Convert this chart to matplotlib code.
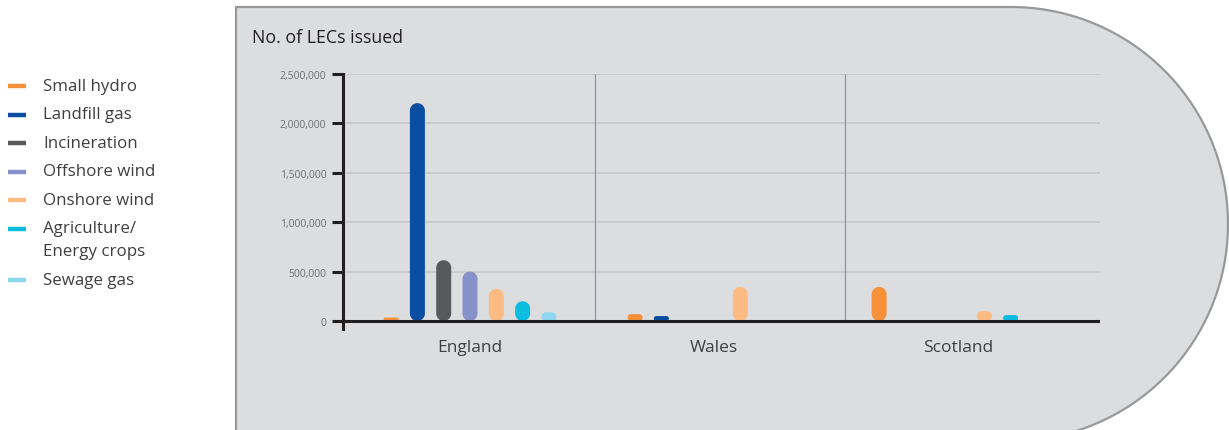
import numpy as np
import matplotlib
matplotlib.use("Agg")
import matplotlib.pyplot as plt
from matplotlib.patches import Polygon

plt.rcParams['font.family'] = ['Open Sans', 'DejaVu Sans']

# LECs issued per region and source
regions = ["England", "Wales", "Scotland"]
sources = ["Small hydro", "Landfill gas", "Incineration", "Offshore wind",
           "Onshore wind", "Agriculture/\nEnergy crops", "Sewage gas"]
colors = ["#f7923a", "#0a4ea2", "#58595b", "#8591c8",
          "#fdbb84", "#0cbde0", "#8dd8ef"]
small_hydro = [35000, 70000, 345000]
landfill_gas = [2205000, 50000, 0]
incineration = [615000, 0, 0]
offshore_wind = [500000, 0, 0]
onshore_wind = [325000, 345000, 100000]
agriculture = [200000, 0, 60000]
sewage_gas = [88000, 0, 0]
series = [small_hydro, landfill_gas, incineration, offshore_wind,
          onshore_wind, agriculture, sewage_gas]
yticks = [0, 500000, 1000000, 1500000, 2000000, 2500000]

W, H = 1229, 431
fig = plt.figure(figsize=(W / 100, H / 100), dpi=100)
fig.patch.set_facecolor("white")

# background panel: rectangle with a round right end, in pixel coords
bg = fig.add_axes([0, 0, 1, 1])
bg.set_xlim(0, W)
bg.set_ylim(H, 0)
bg.axis("off")
cx, cy, R = 1011, 225, 217
t = np.linspace(-np.pi / 2, np.pi / 2, 200)
arc = np.column_stack([cx + R * np.cos(t), cy + R * np.sin(t)])
pts = np.vstack([[[236, cy + R], [236, cy - R]], arc])
bg.add_patch(Polygon(pts, closed=True, facecolor="#dcdddf",
                     edgecolor="#98999b", lw=1.6))
bg.text(252, 38, "No. of LECs issued", fontsize=12.8, color="#231f20",
        va="center", ha="left")

# legend
ly = 87
for name, c in zip(sources, colors):
    bg.plot([8, 26], [ly, ly], color=c, lw=3.2, solid_capstyle="butt")
    for k, line in enumerate(name.split("\n")):
        bg.text(43, ly + k * 23, line, fontsize=12.2, color="#3f3f41",
                va="center", ha="left")
    ly += 28.5 + 23 * name.count("\n")

# chart axes
left, bottom, width, height = 343 / W, 101 / H, 757 / W, 255 / H
ax = fig.add_axes([left, bottom, width, height])
ax.patch.set_alpha(0)
x0, x1 = -0.5205, 2.582
y0, y1 = -81000, 2500000
ax.set_xlim(x0, x1)
ax.set_ylim(y0, y1)

for s in ["top", "right", "bottom"]:
    ax.spines[s].set_visible(False)
ax.spines["left"].set_color("#231f20")
ax.spines["left"].set_linewidth(2.2)
ax.set_yticks(yticks, [f"{v:,}" for v in yticks])
ax.tick_params(axis="y", length=7.6, width=2.2, color="#231f20",
               labelsize=7.5, labelcolor="#6d6e70", pad=4.5)
pos = np.arange(len(regions))
ax.set_xticks(pos, regions)
ax.tick_params(axis="x", length=0, labelsize=12.5, labelcolor="#3f3f41", pad=7.5)

for v in yticks[1:]:
    ax.axhline(v, color="#c4c5c7", lw=1.1, zorder=1)
ax.vlines([0.512, 1.537], 0, yticks[-1], color="#7d89d0", lw=0.8, zorder=1)
ax.axhline(0, color="#231f20", lw=2.2, zorder=4)

# data units per pixel, so corners stay circular on screen
xpp = (x1 - x0) / (W * width)
ypp = (y1 - y0) / (H * height)


def rounded_bar(xc, w, v, color):
    rpx = w / 2 / xpp
    hpx = v / ypp
    dr = min(rpx, hpx / 2)
    a = np.linspace(0, np.pi / 2, 16)
    # corners in pixel offsets from bar centre / bottom
    tr = np.column_stack([rpx - dr + dr * np.cos(a), hpx - dr + dr * np.sin(a)])
    tl = np.column_stack([-(rpx - dr) - dr * np.sin(a), hpx - dr + dr * np.cos(a)])
    bl = np.column_stack([-(rpx - dr) - dr * np.cos(a), dr - dr * np.sin(a)])
    br = np.column_stack([rpx - dr + dr * np.sin(a), dr - dr * np.cos(a)])
    p = np.vstack([tr, tl, bl, br])
    verts = np.column_stack([xc + p[:, 0] * xpp, p[:, 1] * ypp])
    ax.add_patch(Polygon(verts, closed=True, facecolor=color,
                         edgecolor="none", zorder=3))


step = 0.1078
bw = 0.0615
n = len(series)
for i, (vals, c) in enumerate(zip(series, colors)):
    for j, v in enumerate(vals):
        if v > 0:
            rounded_bar(pos[j] + (i - (n - 1) / 2) * step, bw, v, c)

fig.savefig("out.png", dpi=100)
